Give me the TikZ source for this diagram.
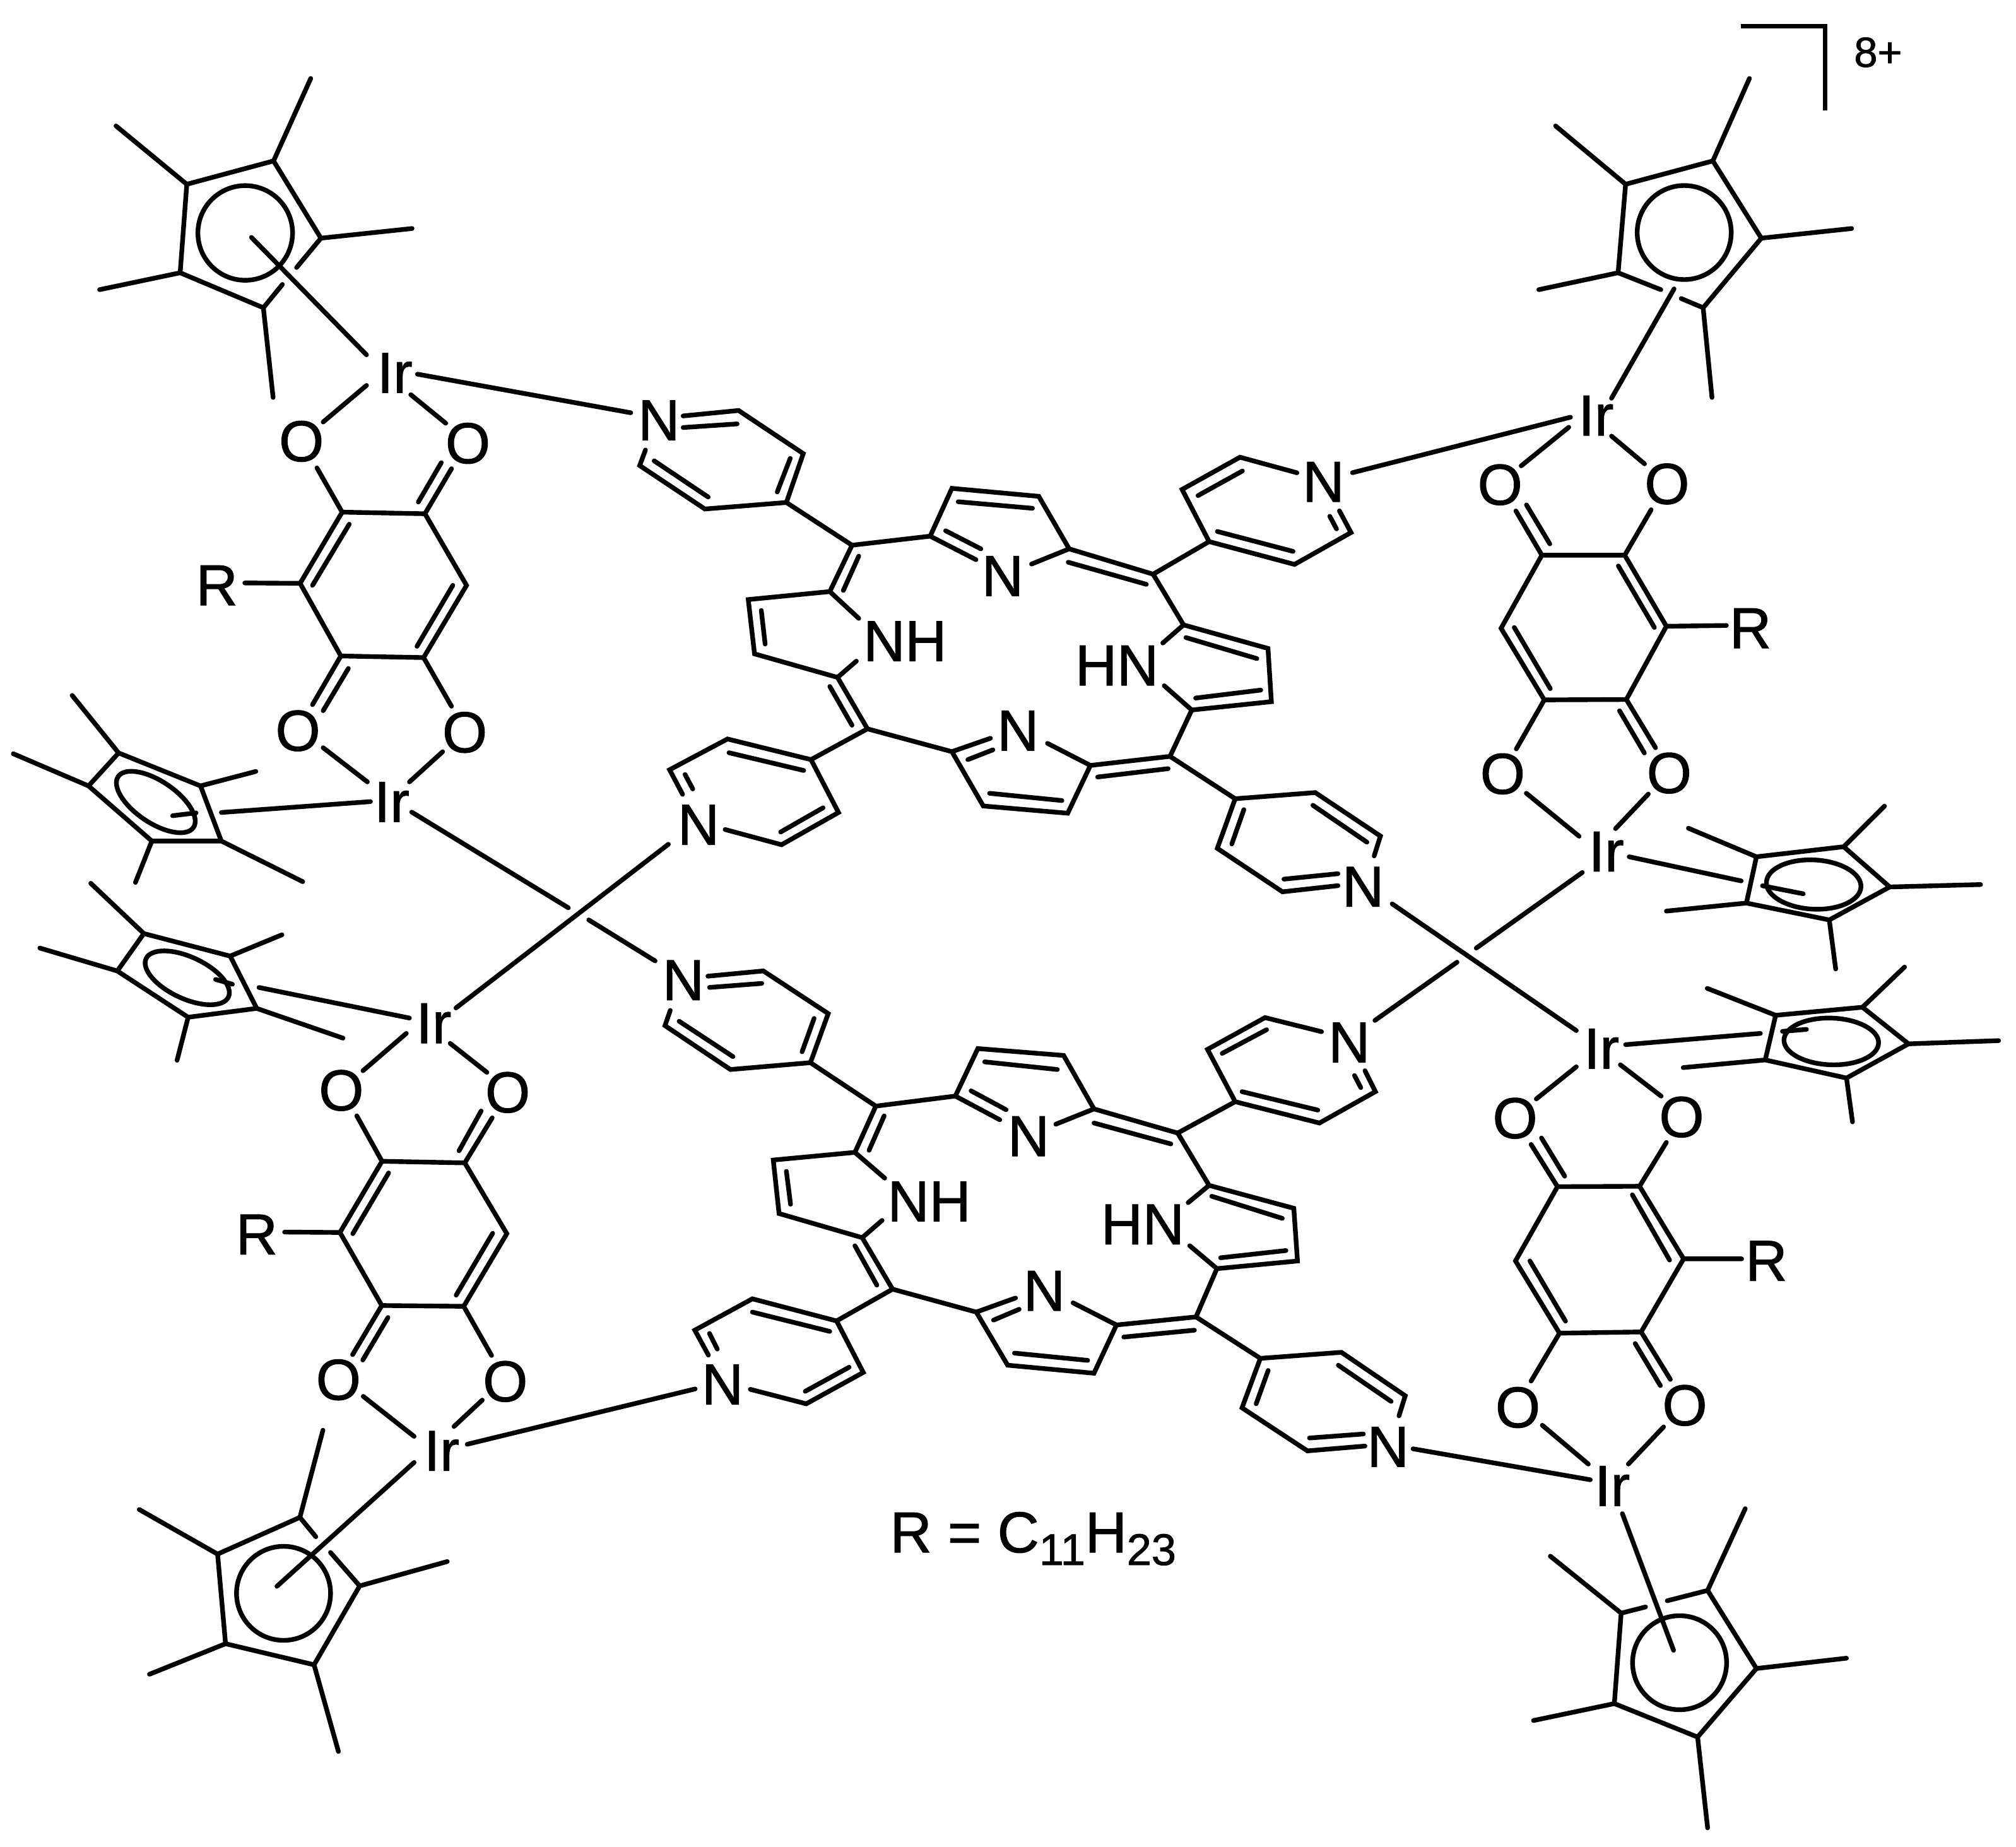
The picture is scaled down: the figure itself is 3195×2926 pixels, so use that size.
\documentclass[tikz,border=0pt]{standalone}
\usepackage{fontspec}
\setmainfont{Liberation Sans}[BoldFont=Liberation Sans,BoldFeatures={FakeBold=1.2}]
\newcommand\pts[1]{\foreach \n/\x/\y in {#1}{\coordinate (\n) at (\x,\y);}}
\tikzset{
  bond/.style={line width=0.74mm,line cap=round,black},
  atom/.style={font=\bfseries\fontsize{26}{26}\selectfont,inner sep=0pt,text=black},
  zone/.style n args={4}{shift={(#1,#2)},x=0.1mm/#3,y=-0.1mm/#4},
}
\begin{document}
\begin{tikzpicture}[x=0.1mm,y=-0.1mm]
\useasboundingbox (0,0) rectangle (3195,2926);
\fill[white] (0,0) rectangle (3195,2926);

% ---------- top left Ir and its Cp*, upper half of first quinone
\begin{scope}[zone={0}{0}{1.4255}{1.568}]
\pts{A1/618/400,A2/725/592,A3/595/765,A4/407/678,A5/422/458,Am1/702/195,Am2/931/568,Am3/617/988,Am4/225/720,Am5/262/313,Ag1/670/665,Ag2/638/707,Al1/568/590,Al2/828/882,Ac/554/579,
AN1/943/930,AN2/1425/1026,AO1/828/958,AO2/730/1049,AO3/928/981,AO4/1007/1052,AO5/716/1163,AO6/1020/1165,AR/553/1449,
Qa1/773/1273,Qb1/960/1277,Qc1/1054/1455,Qf1/678/1450,In1a/1023/1455}
\node[atom] (IrA) at (892,927) {Ir};
\node[atom] (OA1) at (681,1097) {O};
\node[atom] (OA2) at (1057,1102) {O};
\node[atom] (RA) at (490,1455) {R};
\draw[bond] (Ag1)--(A2)--(A1)--(A5)--(A4)--(A3)--(Ag2) (A1)--(Am1) (A2)--(Am2) (A3)--(Am3) (A4)--(Am4) (A5)--(Am5) (Al1)--(Al2);
\draw[bond] (Ac) circle[radius=7.5mm];
\draw[bond] (AN1)--(AN2) (AO1)--(AO2) (AO3)--(AO4) (AO5)--(Qa1) (AO6)--(Qb1) (AR)--(Qf1);
\draw[bond] (997,1150)--(945,1248) (789,1303)--(706,1455);
\end{scope}

% ---------- left middle: two side-on Cp*, two Ir, crossing lines
\begin{scope}[zone={0}{1000}{1.4255}{1.568}]
\pts{Qe1/770/62,Qd1/957/66,In1b/942/38,QO1/706/183,QO2/1020/187,
BO1/730/290,BO2/830/375,BO3/1000/300,BO4/925/375,
B1/453/385,B2/500/522,B3/343/522,B4/200/385,B5/268/303,Bm1/578/349,Bm2/684/623,Bm3/306/625,Bm4/30/305,Bm5/163/160,Bc/352/425,
Bl1/837/424,Bl2/500/451,Bl3/443/452,Bl4/390/459,BX1/930/450,BX2/1284/688,BX3/1330/718,BX4/1480/820,
CX1/1030/937,CX2/1510/530,
C1/520/808,C2/580/938,C3/425/960,C4/265/845,C5/325/752,Cm1/637/755,Cm2/775/1012,Cm3/400/1067,Cm4/90/788,Cm5/205/627,Cc/423/862,
Cl1/925/962,Cl2/585/886,Cl3/525/878,Cl4/487/866,
CO1/820/1093,CO2/918/1000,CO3/1017/1025,CO4/1100/1097,CO5/806/1205,CO6/1112/1210,CR/643/1494,
Qa2/863/1318,Qb2/1050/1322,Qc2/1145/1498,Qf2/768/1495,In2a/1113/1497}
\node[atom] (IrB) at (885,425) {Ir};
\node[atom] (IrC) at (980,975) {Ir};
\node[atom] (OB1) at (673,248) {O};
\node[atom] (OB2) at (1050,252) {O};
\node[atom] (OC1) at (771,1142) {O};
\node[atom] (OC2) at (1147,1147) {O};
\node[atom] (RC) at (580,1500) {R};
\draw[bond] (Qf1)--(Qa1)--(Qb1)--(Qc1)--(Qd1)--(Qe1)--(Qf1);
\draw[bond] (In1a)--(In1b) (Qe1)--(QO1) (Qd1)--(QO2) (787,93)--(730,198);
\draw[bond] (BO1)--(BO2) (BO3)--(BO4);
\draw[bond] (B1)--(B2)--(B3)--(B4)--(B5)--cycle (B1)--(Bm1) (B2)--(Bm2) (B3)--(Bm3) (B4)--(Bm4) (B5)--(Bm5);
\draw[bond] (Bc) circle[x radius=7.2mm,y radius=3.3mm,rotate=-34];
\draw[bond] (Bl1)--(Bl2) (Bl3)--(Bl4) (BX1)--(BX2) (BX3)--(BX4) (CX1)--(CX2);
\draw[bond] (C1)--(C2)--(C3)--(C4)--(C5)--cycle (C1)--(Cm1) (C2)--(Cm2) (C3)--(Cm3) (C4)--(Cm4) (C5)--(Cm5);
\draw[bond] (Cc) circle[x radius=7.2mm,y radius=3.3mm,rotate=-25];
\draw[bond] (Cl1)--(Cl2) (Cl3)--(Cl4) (CO1)--(CO2) (CO3)--(CO4) (CO5)--(Qa2) (CO6)--(Qb2) (CR)--(Qf2);
\draw[bond] (1087,1193)--(1037,1292) (878,1347)--(797,1498);
\end{scope}

% ---------- bottom left
\begin{scope}[zone={100}{1900}{1.4255}{1.528}]
\pts{Qe2/720/258,Qd2/905/260,In2b/888/233,QO3/654/377,QO4/968/379,
DO1/678/478,DO2/793/575,DO3/947/487,DO4/883/551,DN1/913/594,DN2/1428/460,
D1/535/771,D2/670/937,D3/567/1128,D4/367/1077,D5/349/860,Dg1/571/818,Dg2/604/856,
Dm1/587/560,Dm2/868/878,Dm3/622/1338,Dm4/195/1151,Dm5/172/752,Dc/498/955,Dl1/793/638,Dl2/483/938}
\node[atom] (IrD) at (855,610) {Ir};
\node[atom] (OD1) at (622,438) {O};
\node[atom] (OD2) at (999,442) {O};
\draw[bond] (Qf2)--(Qa2)--(Qb2)--(Qc2)--(Qd2)--(Qe2)--(Qf2);
\draw[bond] (In2a)--(In2b) (Qe2)--(QO3) (Qd2)--(QO4) (734,287)--(677,390);
\draw[bond] (DO1)--(DO2) (DO3)--(DO4) (DN1)--(DN2);
\draw[bond] (Dg1)--(D1)--(D5)--(D4)--(D3)--(D2)--(Dg2) (D1)--(Dm1) (D2)--(Dm2) (D3)--(Dm3) (D4)--(Dm4) (D5)--(Dm5) (Dl1)--(Dl2);
\draw[bond] (Dc) circle[radius=7.45mm];
\end{scope}

% ---------- top porphyrin
\begin{scope}[zone={1000}{600}{1.3067}{1.742}]
\pts{Pa0/108/103,Pa1/223/88,Pa2/357/207,Pa3/322/342,Pa4/153/360,Pa5/18/240,Pa6/30/197,
Pm1/458/460,Pc1/412/588,Pb1/620/435,Pb2/665/303,Pb3/845/325,Pb4/908/470,Pb5/830/512,Pb6/715/500,Pm2/1082/540,
Pd1/1198/450,Pd2/1142/306,Pd3/1262/217,Pd4/1380/260,Pd5/1468/365,Pd6/1492/425,Pd7/1375/513,
Pe1/1145/680,Pe2/1320/745,Pe3/1327/892,Pe4/1162/915,Pe5/1102/730,Pe6/1105/848,Pm3/1117/1043,
Pf1/952/1068,Pf2/905/1200,Pf3/730/1180,Pf4/665/1030,Pf5/863/1007,Pf6/745/993,Pm4/490/967,
Pg1/428/825,Pg2/256/760,Pg3/243/610,Pg4/467/780,Pg5/472/662,
Ph1/373/1052,Ph2/200/995,Ph3/80/1080,Ph4/107/1148,Ph5/195/1245,Ph6/312/1287,Ph7/430/1198,
Pi1/1252/1160,Pi2/1418/1143,Pi3/1553/1263,Pi4/1540/1318,Pi5/1465/1400,Pi6/1350/1417,Pi7/1215/1297}
\node[atom] (PN1) at (58,115) {N};
\node[atom] (PN2) at (770,545) {N};
\node[atom] (PN3) at (1435,285) {N};
\node[atom] (PHN) at (1007,792) {HN};
\node[atom] (PN4) at (802,972) {N};
\node[atom] (PNH) at (568,725) {NH};
\node[atom] (PN5) at (140,1232) {N};
\node[atom] (PN6) at (1517,1403) {N};
\draw[bond] (Pa0)--(Pa1)--(Pa2)--(Pa3)--(Pa4)--(Pa5)--(Pa6) (108,135)--(220,125) (330,220)--(303,313) (160,327)--(48,227);
\draw[bond] (Pa3)--(Pm1)--(Pb1)--(Pb2)--(Pb3)--(Pb4)--(Pb5) (Pb1)--(Pb6) (Pm1)--(Pc1) (Pb4)--(Pm2);
\draw[bond] (472,490)--(440,585) (652,420)--(725,470) (678,340)--(832,358) (906,507)--(1068,568);
\draw[bond] (Pm2)--(Pd1)--(Pd2)--(Pd3)--(Pd4) (Pd5)--(Pd6)--(Pd7)--(Pd1) (1175,323)--(1267,255) (1448,380)--(1462,415) (1372,477)--(1215,422);
\draw[bond] (Pe5)--(Pe1)--(Pe2)--(Pe3)--(Pe4)--(Pe6) (Pm2)--(Pe1) (Pe4)--(Pm3) (1150,715)--(1297,773) (1305,860)--(1170,882);
\draw[bond] (Pf5)--(Pf1)--(Pf2)--(Pf3)--(Pf4)--(Pf6) (Pm3)--(Pf1) (Pf4)--(Pm4) (1113,1077)--(967,1100) (893,1165)--(743,1145) (698,1052)--(750,1025);
\draw[bond] (Pg4)--(Pg1)--(Pg2)--(Pg3)--(Pc1)--(Pg5) (Pm4)--(Pg1) (458,957)--(412,850) (278,733)--(270,640);
\draw[bond] (Pm4)--(Ph1)--(Ph2)--(Ph3)--(Ph4) (Ph5)--(Ph6)--(Ph7)--(Ph1) (358,1082)--(203,1033) (112,1093)--(128,1133) (310,1252)--(398,1185);
\draw[bond] (Pm3)--(Pi1)--(Pi2)--(Pi3)--(Pi4) (Pi5)--(Pi6)--(Pi7)--(Pi1) (1413,1178)--(1525,1280) (1465,1367)--(1353,1382) (1245,1285)--(1270,1190);
\end{scope}

% ---------- bottom porphyrin
\begin{scope}[zone={1000}{1480}{1.206}{1.568}]
\pts{Sa0/147/105,Sa1/253/92,Sa2/377/198,Sa3/343/320,Sa4/190/337,Sa5/65/228,Sa6/75/190,
Sm1/468/428,Sc1/428/543,Sb1/620/403,Sb2/663/285,Sb3/827/302,Sb4/885/435,Sb5/812/473,Sb6/705/462,Sm2/1045/495,
Sd1/1155/417,Sd2/1102/287,Sd3/1212/208,Sd4/1320/243,Sd5/1403/340,Sd6/1423/392,Sd7/1316/470,SdX/1422/215,
Se1/1105/625,Se2/1267/682,Se3/1274/813,Se4/1120/832,Se5/1065/668,Se6/1068/775,Sm3/1080/952,
Sf1/928/972,Sf2/885/1092,Sf3/720/1072,Sf4/660/940,Sf5/845/917,Sf6/735/905,Sm4/500/883,
Sg1/442/755,Sg2/283/695,Sg3/272/562,Sg4/480/712,Sg5/485/607,
Sh1/393/962,Sh2/232/907,Sh3/122/985,Sh4/148/1047,Sh5/228/1132,Sh6/335/1168,Sh7/444/1090,
Si1/1203/1055,Si2/1358/1040,Si3/1480/1148,Si4/1468/1198,Si5/1403/1273,Si6/1293/1285,Si7/1168/1178}
\node[atom] (SN1) at (100,115) {N};
\node[atom] (SN2) at (760,503) {N};
\node[atom] (SN3) at (1373,270) {N};
\node[atom] (SHN) at (978,722) {HN};
\node[atom] (SN4) at (790,887) {N};
\node[atom] (SNH) at (570,665) {NH};
\node[atom] (SN5) at (175,1120) {N};
\node[atom] (SN6) at (1447,1275) {N};
\draw[bond] (Sa0)--(Sa1)--(Sa2)--(Sa3)--(Sa4)--(Sa5)--(Sa6) (150,133)--(250,123) (350,210)--(327,293) (195,305)--(92,217);
\draw[bond] (Sa3)--(Sm1)--(Sb1)--(Sb2)--(Sb3)--(Sb4)--(Sb5) (Sb1)--(Sb6) (Sm1)--(Sc1) (Sb4)--(Sm2);
\draw[bond] (484,452)--(455,538) (650,390)--(717,437) (676,318)--(815,337) (885,470)--(1032,522);
\draw[bond] (Sm2)--(Sd1)--(Sd2)--(Sd3)--(Sd4) (Sd5)--(Sd6)--(Sd7)--(Sd1) (1130,297)--(1215,238) (1383,352)--(1395,382) (1313,438)--(1168,392);
\draw[bond] (Se5)--(Se1)--(Se2)--(Se3)--(Se4)--(Se6) (Sm2)--(Se1) (Se4)--(Sm3) (1110,652)--(1245,707) (1252,787)--(1127,805);
\draw[bond] (Sf5)--(Sf1)--(Sf2)--(Sf3)--(Sf4)--(Sf6) (Sm3)--(Sf1) (Sf4)--(Sm4) (1077,985)--(942,1002) (873,1060)--(733,1042) (693,960)--(742,933);
\draw[bond] (Sg4)--(Sg1)--(Sg2)--(Sg3)--(Sc1)--(Sg5) (Sm4)--(Sg1) (470,873)--(428,775) (305,672)--(297,590);
\draw[bond] (Sm4)--(Sh1)--(Sh2)--(Sh3)--(Sh4) (Sh5)--(Sh6)--(Sh7)--(Sh1) (380,988)--(232,940) (150,993)--(165,1032) (333,1137)--(417,1077);
\draw[bond] (Sm3)--(Si1)--(Si2)--(Si3)--(Si4) (Si5)--(Si6)--(Si7)--(Si1) (1352,1072)--(1453,1162) (1400,1243)--(1297,1253) (1195,1168)--(1218,1085);
\end{scope}

% ---------- top right
\begin{scope}[zone={2100}{0}{1.432}{1.568}]
\pts{Br1/943/65,Br2/1135/65,Br3/1135/275,
E1/880/400,E2/990/592,E3/858/765,E4/665/678,E5/682/458,Em1/963/195,Em2/1195/568,Em3/878/988,Em4/485/720,Em5/523/313,Eg1/762/720,Eg2/808/742,Ec/815/578,
El1/792/718,El2/650/990,EN1/557/1037,EN2/62/1175,EO1/553/1062,EO2/445/1158,EO3/650/1084,EO4/725/1153,
EO5/433/1270,EO6/740/1267,Qa3/492/1380,Qb3/680/1380}
\node[atom] (IrE) at (615,1033) {Ir};
\node[atom] (OE1) at (397,1205) {O};
\node[atom] (OE2) at (776,1203) {O};
\node[atom,font=\bfseries\fontsize{19}{19}\selectfont] (Chg) at (1255,130) {8+};
\draw[line width=0.74mm,line cap=butt] (Br1)--(Br2)--(Br3);
\draw[bond] (Eg1)--(E4)--(E5)--(E1)--(E2)--(E3)--(Eg2) (E1)--(Em1) (E2)--(Em2) (E3)--(Em3) (E4)--(Em4) (E5)--(Em5) (El1)--(El2);
\draw[bond] (Ec) circle[radius=7.45mm];
\draw[bond] (EN1)--(EN2) (EO1)--(EO2) (EO3)--(EO4) (Qa3)--(EO5) (Qb3)--(EO6) (Qa3)--(Qb3) (510,1352)--(457,1255);
\end{scope}

% ---------- right middle
\begin{scope}[zone={2200}{900}{1.576}{1.568}]
\pts{Qc3/695/145,Qf3/282/150,Qd3/595/327,Qe3/390/328,FR/845/143,FO1/320/450,FO2/668/447,
FO3/345/560,FO4/477/667,FO5/650/562,FO6/568/648,
F1/920/718,F2/1138/693,F3/1253/793,F4/1102/875,F5/895/833,Fm1/750/647,Fm2/1240/592,Fm3/1480/787,Fm4/1118/997,Fm5/695/853,Fc/1063/787,
Fl1/602/718,Fl2/882/778,Fl3/935/790,Fl4/1037/810,FX1/485/757,FX2/220/945,FX3/10/835,FX4/470/1150,FX5/172/980,
G1/968/1112,G2/1185/1092,G3/1300/1183,G4/1145/1268,G5/942/1223,Gm1/797/1045,Gm2/1290/992,Gm3/1525/1175,Gm4/1160/1377,Gm5/737/1242,Gc/1107/1177,
Gl1/593/1185,Gl2/930/1157,Gl3/985/1152,Gl4/1045/1147,GO1/470/1240,GO2/370/1320,GO3/580/1235,GO4/682/1313,GO5/357/1433,GO6/695/1428,
Qa4/423/1538,Qb4/628/1537}
\node[atom] (RF) at (905,150) {R};
\node[atom] (OF1) at (286,512) {O};
\node[atom] (OF2) at (702,510) {O};
\node[atom] (IrF) at (545,705) {Ir};
\node[atom] (IrG) at (533,1195) {Ir};
\node[atom] (OG1) at (317,1368) {O};
\node[atom] (OG2) at (733,1365) {O};
\draw[bond] (Qa3)--(Qf3)--(Qe3)--(Qd3)--(Qc3)--(Qb3) (Qc3)--(FR) (Qe3)--(FO1) (Qd3)--(FO2);
\draw[bond] (315,148)--(405,300) (665,148)--(575,-5) (578,355)--(640,460);
\draw[bond] (FO3)--(FO4) (FO5)--(FO6);
\draw[bond] (F1)--(F2)--(F3)--(F4)--(F5)--cycle (F1)--(Fm1) (F2)--(Fm2) (F3)--(Fm3) (F4)--(Fm4) (F5)--(Fm5);
\draw[bond] (Fc) circle[x radius=7.5mm,y radius=3.9mm,rotate=-3];
\draw[bond] (Fl1)--(Fl2) (Fl3)--(Fl4) (FX1)--(FX2) (FX3)--(FX4) (FX5)--(SdX);
\draw[bond] (G1)--(G2)--(G3)--(G4)--(G5)--cycle (G1)--(Gm1) (G2)--(Gm2) (G3)--(Gm3) (G4)--(Gm4) (G5)--(Gm5);
\draw[bond] (Gc) circle[x radius=7.5mm,y radius=3.7mm,rotate=-2];
\draw[bond] (Gl1)--(Gl2) (Gl3)--(Gl4) (GO1)--(GO2) (GO3)--(GO4) (Qa4)--(GO5) (Qb4)--(GO6) (Qa4)--(Qb4) (441,1512)--(383,1417);
\end{scope}

% ---------- bottom right
\begin{scope}[zone={2200}{1900}{1.576}{1.528}]
\pts{Qf4/318/150,Qc4/738/145,Qe4/428/325,Qd4/632/322,HR/883/145,HO1/357/441,HO2/705/437,
HO3/385/548,HO4/500/642,HO5/688/552,HO6/600/642,HN1/62/605,HN2/505/680,Hl1/585/762,Hl2/713/1093,
H1/798/948,H2/920/1137,H3/773/1303,H4/565/1222,H5/582/1003,Hg1/643/988,Hg2/697/973,Hm1/892/750,Hm2/1145/1112,Hm3/798/1523,Hm4/363/1263,Hm5/405/865,Hc/728/1123,In4b/703/148}
\node[atom] (RH) at (945,150) {R};
\node[atom] (OH1) at (324,505) {O};
\node[atom] (OH2) at (741,500) {O};
\node[atom] (IrH) at (560,695) {Ir};
\draw[bond] (Qa4)--(Qf4)--(Qe4)--(Qd4)--(Qc4)--(Qb4) (Qc4)--(HR) (Qe4)--(HO1) (Qd4)--(HO2);
\draw[bond] (354,150)--(443,296) (617,350)--(680,452) (In4b)--(610,-10);
\draw[bond] (HO3)--(HO4) (HO5)--(HO6) (HN1)--(HN2) (Hl1)--(Hl2);
\draw[bond] (Hg1)--(H5)--(H4)--(H3)--(H2)--(H1)--(Hg2) (H1)--(Hm1) (H2)--(Hm2) (H3)--(Hm3) (H4)--(Hm4) (H5)--(Hm5);
\draw[bond] (Hc) circle[radius=7.45mm];
\end{scope}

% ---------- legend
\coordinate (legend) at (1410,2460);
\node[atom,anchor=base west] (Leg) at (legend) {R = C\raisebox{-5.7pt}{\fontsize{20}{20}\selectfont 11}H\raisebox{-5.7pt}{\fontsize{20}{20}\selectfont 23}};
\end{tikzpicture}
\end{document}
